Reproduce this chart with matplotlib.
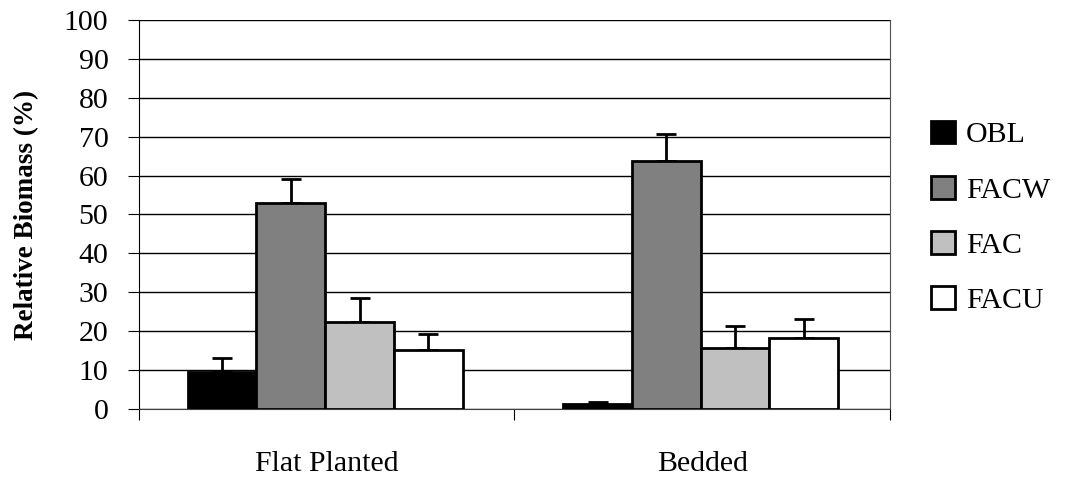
import matplotlib
matplotlib.use("Agg")
import matplotlib.pyplot as plt
import numpy as np

plt.rcParams['font.family'] = ['Liberation Serif', 'DejaVu Serif']

categories = ["Flat Planted", "Bedded"]
series = ["OBL", "FACW", "FAC", "FACU"]
obl = [9.5, 1.2]
facw = [53.0, 63.8]
fac = [22.4, 15.7]
facu = [15.2, 18.2]
obl_err = [3.7, 0.7]
facw_err = [6.0, 6.9]
fac_err = [6.2, 5.6]
facu_err = [4.1, 4.9]
colors = ["#000000", "#808080", "#c0c0c0", "#ffffff"]

values = [obl, facw, fac, facu]
errors = [obl_err, facw_err, fac_err, facu_err]

fig = plt.figure(figsize=(10.68, 4.8), dpi=100)
ax = fig.add_axes([0.1301, 0.148, 0.7032, 0.8104])

x = np.arange(len(categories))
w = 0.183
for i, (vals, errs, c, name) in enumerate(zip(values, errors, colors, series)):
    pos = x + (i - 1.5) * w - 0.004
    ax.bar(pos, vals, width=w, color=c, edgecolor="black", linewidth=2,
           label=name, zorder=3)
    ax.errorbar(pos, vals, yerr=[np.zeros(len(errs)), errs], fmt="none",
                ecolor="black", elinewidth=2, capsize=7.2, capthick=2, zorder=2)

ax.set_xlim(-0.5, 1.5)
ax.set_ylim(0, 100)
ax.set_yticks(np.arange(0, 101, 10))
ax.tick_params(axis='y', labelsize=21.5, length=8, direction='out', pad=14)
ax.set_xticks([-0.5, 0.5, 1.5], minor=False)
ax.set_xticklabels([])
ax.set_xticks(x, minor=True)
ax.set_xticklabels(categories, minor=True, fontsize=21.5)
ax.tick_params(axis='x', which='minor', length=0, pad=30)
ax.tick_params(axis='x', which='major', length=8)
ax.grid(axis='y', color='black', linewidth=1, zorder=0)
ax.spines["top"].set_visible(False)
ax.spines["right"].set_color("#505050")
ax.spines["left"].set_color("black")
ax.spines["bottom"].set_color("#404040")
ax.set_ylabel("Relative Biomass (%)", fontsize=19.5, fontweight='bold', labelpad=18)

leg = fig.legend(loc='center left', bbox_to_anchor=(0.872, 0.547), frameon=False,
                 fontsize=21.5, handlelength=0.8, handleheight=0.8,
                 labelspacing=0.92, handletextpad=0.35, borderpad=0,
                 borderaxespad=0)
for h in leg.legend_handles:
    h.set_linewidth(2)

fig.savefig("out.png", dpi=100)
